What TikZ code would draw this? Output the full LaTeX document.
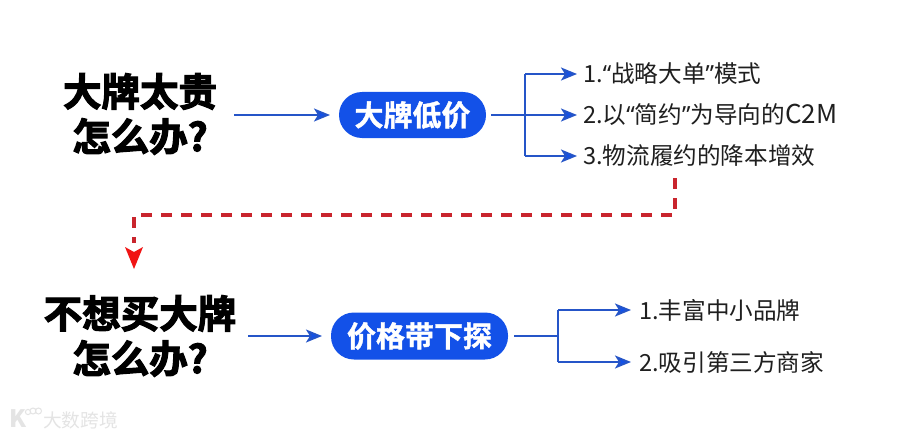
\documentclass[tikz,border=0pt]{standalone}
\usepackage{fontspec}
\usetikzlibrary{arrows.meta,calc}
\setmainfont{Noto Sans CJK SC}
\newfontfamily\cjkreg{Noto Sans CJK SC}
\newfontfamily\quotefont{Noto Sans}
\newcommand{\openq}{{\quotefont “}}
\newcommand{\closeq}{{\quotefont ”}}
\newfontfamily\cjkhead[BoldFont={Noto Sans CJK SC Bold},BoldFeatures={FakeBold=3}]{Noto Sans CJK SC}
\newfontfamily\cjkpill[BoldFont={Noto Sans CJK SC Bold},BoldFeatures={FakeBold=1.4}]{Noto Sans CJK SC}
\definecolor{pillblue}{HTML}{1351E8}
\definecolor{lineblue}{HTML}{2555C8}
\definecolor{dashred}{HTML}{C9252D}
\definecolor{tipred}{HTML}{F01414}
\definecolor{wm}{HTML}{E4E4E4}
\tikzset{
  x=1pt,y=-1pt,
  headline/.style={font=\cjkhead\bfseries\fontsize{38.5}{45}\selectfont,align=center,text=black,inner sep=0},
  pill/.style={rounded corners=23pt,fill=pillblue,text=white,font=\cjkpill\bfseries\fontsize{29}{32}\selectfont,inner sep=0,align=center},
  item/.style={anchor=west,font=\cjkreg\fontsize{23.6}{26}\selectfont,text=black!88,inner sep=0},
  conn/.style={draw=lineblue,line width=1.8pt,-{Stealth[length=16pt,width=13pt,inset=4pt,fill=pillblue]}},
  trunk/.style={draw=lineblue,line width=1.8pt},
  reddash/.style={draw=dashred,line width=3.2pt,dash pattern=on 11pt off 9pt},
  redtip/.style={draw=none,fill=tipred},
}
\begin{document}
\begin{tikzpicture}
\useasboundingbox (0,0) rectangle (900,436);
\fill[white] (0,0) rectangle (900,436);
% headings
\node[headline] (h1) at (140,114) {大牌太贵\\怎么办?};
\node[headline] (h2) at (140,336) {不想买大牌\\怎么办?};
% pills
\node[pill,minimum width=147pt,minimum height=46pt] (p1) at (412.5,115) {大牌低价};
\node[pill,minimum width=177pt,minimum height=47pt] (p2) at (419.5,336) {价格带下探};
% items
\node[item] (a1) at (583,74) {1.\openq 战略大单\closeq 模式};
\node[item] (a2) at (583,115) {2.以\openq 简约\closeq 为导向的{\fontsize{26}{26}\selectfont C2M}};
\node[item] (a3) at (583,156) {3.物流履约的降本增效};
\node[item] (b1) at (639,310) {1.丰富中小品牌};
\node[item] (b2) at (639,362) {2.吸引第三方商家};
% helper points
\coordinate (h1out) at (234,115);
\coordinate (p1in) at (330,115);
\coordinate (p1out) at (491,115);
\coordinate (t1) at (525,74);
\coordinate (t3) at (525,156);
\coordinate (e1) at (577,74);
\coordinate (e2) at (577,115);
\coordinate (e3) at (577,156);
\coordinate (h2out) at (248,336);
\coordinate (p2in) at (322,336);
\coordinate (p2out) at (514,336);
\coordinate (jn) at (558,336);
\coordinate (u1) at (558,310);
\coordinate (u2) at (558,362);
\coordinate (f1) at (631,310);
\coordinate (f2) at (631,362);
\coordinate (rs) at (675,178);
\coordinate (rc1) at (675,215);
\coordinate (rc2) at (134,215);
\coordinate (re) at (134,243);
% connectors
\draw[conn] (h1out) -- (p1in);
\draw[conn] (p1out) -- (e2);
\draw[trunk] (t1) -- (t3);
\draw[conn] (t1) -- (e1);
\draw[conn] (t3) -- (e3);
\draw[conn] (h2out) -- (p2in);
\draw[trunk] (p2out) -- (jn);
\draw[trunk] (u1) -- (u2);
\draw[conn] (u1) -- (f1);
\draw[conn] (u2) -- (f2);
\draw[reddash] (rs) -- (rc1) -- (rc2) -- (re);
\fill[redtip] (125,247) -- (134,252) -- (143,247) -- (134,269) -- cycle;
% watermark
\node[anchor=west,inner sep=0,text=wm,font=\cjkreg\fontsize{18.7}{20}\selectfont] (wmk) at (43,420) {大数跨境};
\node[anchor=west,inner sep=0,text=wm,font=\cjkreg\bfseries\fontsize{24}{24}\selectfont] (wml) at (9,419) {K};
\draw[wm,line width=1pt] (28,412) circle (2.6pt) (33,411) circle (3pt) (38.5,411) circle (3pt);
\end{tikzpicture}
\end{document}
